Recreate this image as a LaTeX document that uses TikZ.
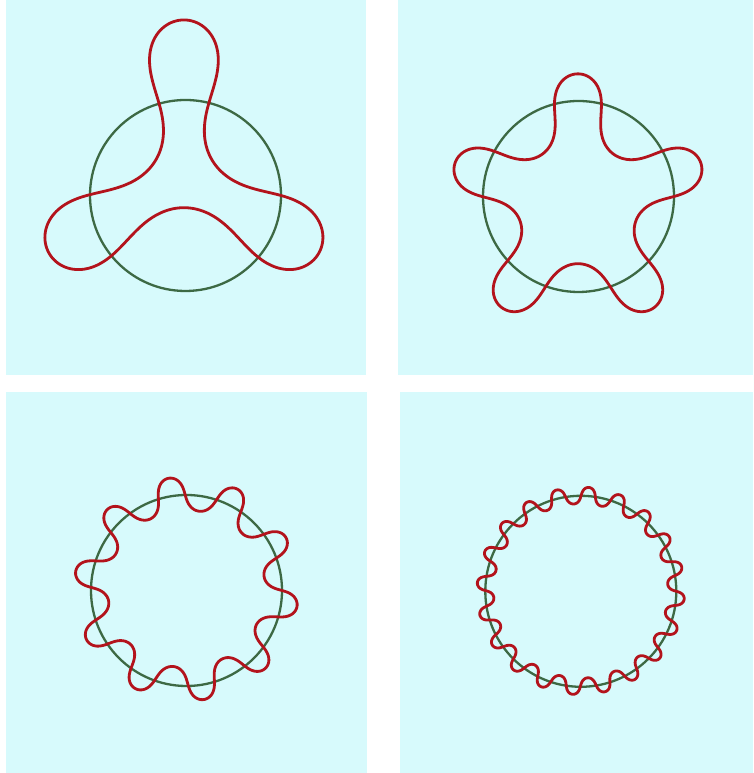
\documentclass[tikz,border=0pt]{standalone}
\definecolor{panelfill}{HTML}{D7FAFC}
\definecolor{wavered}{HTML}{B3131C}
\definecolor{orbitgreen}{HTML}{3D6944}

% wave swing (rad) and radius of the generating turn, 95.5/J0(swing)
\def\swing{1.3}
\def\turnradius{154.01}

\begin{document}
\begin{tikzpicture}[
  x=1pt, y=1pt,
  panel/.style={fill=panelfill, draw=none},
  orbit/.style={draw=orbitgreen, line width=2.3pt},
  wave/.style={draw=wavered, line width=2.8pt, line join=round}
]
\useasboundingbox (0,0) rectangle (753,773);

% Four panels
\fill[panel] (6,398) rectangle (366,773);
\fill[panel] (398,398) rectangle (753,773);
\fill[panel] (6,0) rectangle (367,381);
\fill[panel] (400,0) rectangle (753,381);

% Orbit and the wave laid along it, one per panel
\foreach \cx/\cy/\n/\sg/\steps [count=\i] in {185.5/577.5/3/1/360, 578.5/576.5/5/-1/400, 186.5/182.5/10/1/500, 580.8/181.7/20/1/800}{
  \coordinate (orbit\i) at (\cx,\cy);
  \draw[orbit] (orbit\i) circle[radius=95.5];
  \xdef\wx{\fpeval{\cx+95.5}}
  \xdef\wy{\cy}
  \xdef\wavepath{(\wx,\wy)}
  \foreach \k in {1,...,\steps}{
    \xdef\wphi{\fpeval{pi/2 + (\k-0.5)*2*pi/\steps + \sg*\swing*cos(\n*(\k-0.5)*2*pi/\steps)}}
    \xdef\wx{\fpeval{\wx + \turnradius*2*pi/\steps*cos(\wphi)}}
    \xdef\wy{\fpeval{\wy + \turnradius*2*pi/\steps*sin(\wphi)}}
    \xdef\wavepath{\wavepath -- (\fpeval{round(\wx,2)},\fpeval{round(\wy,2)})}
  }
  \edef\drawwave{\noexpand\draw[wave] \wavepath -- cycle;}
  \drawwave
}

\end{tikzpicture}
\end{document}
